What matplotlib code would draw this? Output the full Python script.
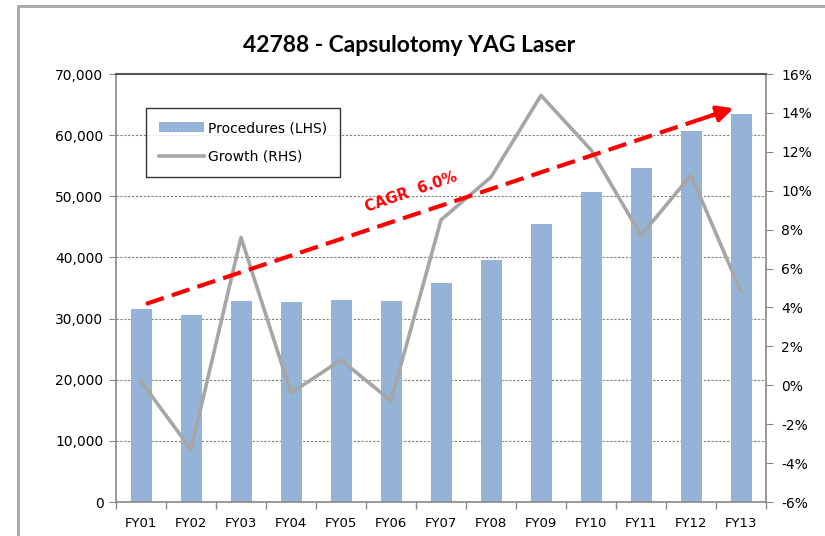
import matplotlib
matplotlib.use("Agg")
import matplotlib.pyplot as plt
from matplotlib.patches import Rectangle, Patch
from matplotlib.lines import Line2D
from matplotlib.ticker import FuncFormatter, MultipleLocator, FixedLocator

categories = ["FY01", "FY02", "FY03", "FY04", "FY05", "FY06", "FY07",
              "FY08", "FY09", "FY10", "FY11", "FY12", "FY13"]
procedures = [31500, 30600, 32800, 32700, 33000, 32800, 35800,
              39500, 45400, 50700, 54700, 60600, 63500]
growth = [0.2, -3.3, 7.6, -0.4, 1.3, -0.8, 8.5,
          10.7, 14.9, 12.1, 7.7, 10.8, 4.8]
title = "42788 - Capsulotomy YAG Laser"
cagr_label = "CAGR  6.0%"
cagr_start = (0.1, 32400)
cagr_end = (11.85, 64400)

plt.rcParams['font.family'] = ['DejaVu Sans']

fig = plt.figure(figsize=(8.25, 5.36), dpi=100)
W, H = 825, 536
ax = fig.add_axes([116 / W, 1 - 502 / H, 650 / W, 428 / H])

# outer frame
fig.patches.append(Rectangle((18 / W, -0.2), 1.2, 1 - 6 / H + 0.2,
                             transform=fig.transFigure, fill=False,
                             edgecolor='#a6a6a6', linewidth=2, zorder=0))

x = list(range(len(categories)))
ax.bar(x, procedures, width=0.42, color='#95b3d7', zorder=2)
ax.set_xlim(-0.5, len(categories) - 0.5)
ax.set_ylim(0, 70000)
ax.yaxis.set_major_locator(MultipleLocator(10000))
ax.yaxis.set_major_formatter(FuncFormatter(lambda v, p: f"{int(v):,}"))
ax.grid(axis='y', color='#808080', linestyle=(0, (2, 1.5)), linewidth=0.8, zorder=1)
ax.set_xticks(x)
ax.set_xticklabels(categories)
ax.xaxis.set_minor_locator(FixedLocator([i - 0.5 for i in range(len(categories) + 1)]))
ax.tick_params(axis='x', which='major', length=0, pad=11, labelsize=9.5)
ax.tick_params(axis='x', which='minor', length=5, color='#888888', width=1)
ax.tick_params(axis='y', length=5, color='#888888', labelsize=10, pad=4)

for s in ['left', 'bottom', 'right']:
    ax.spines[s].set_color('#888888')
    ax.spines[s].set_linewidth(1.2)
ax.spines['top'].set_color('#555555')
ax.spines['top'].set_linewidth(1.5)

ax2 = ax.twinx()
ax2.set_ylim(-6, 16)
ax2.yaxis.set_major_locator(MultipleLocator(2))
ax2.yaxis.set_major_formatter(FuncFormatter(lambda v, p: f"{int(round(v))}%"))
ax2.tick_params(axis='y', length=5, color='#888888', labelsize=10, pad=6)
for s in ['left', 'bottom', 'right', 'top']:
    ax2.spines[s].set_visible(False)

ax.set_zorder(ax2.get_zorder() + 1)
ax.patch.set_visible(False)

# growth line on top of bars, scaled by the right axis
ax.plot(x, growth, color='#a6a6a6', linewidth=2.6, zorder=3,
        transform=ax2.transData)

# CAGR arrow
fx = 0.985
mid = (cagr_start[0] + (cagr_end[0] - cagr_start[0]) * fx,
       cagr_start[1] + (cagr_end[1] - cagr_start[1]) * fx)
ax.plot([cagr_start[0], mid[0]], [cagr_start[1], mid[1]],
        color='#ff0000', linewidth=3, linestyle=(0, (4.5, 2)),
        zorder=5, clip_on=False)
ax.annotate("", xy=cagr_end,
            xytext=(cagr_start[0] + (cagr_end[0] - cagr_start[0]) * 0.95,
                    cagr_start[1] + (cagr_end[1] - cagr_start[1]) * 0.95),
            arrowprops=dict(arrowstyle='-|>', color='#ff0000', lw=3,
                            mutation_scale=24, shrinkA=0, shrinkB=0),
            zorder=6)

ax.text(5.4, 50700, cagr_label, color='#ff0000', fontsize=10.5, fontweight='bold',
        rotation=19, rotation_mode='anchor', ha='center', va='center', zorder=6)

handles = [Patch(facecolor='#95b3d7', edgecolor='none'),
           Line2D([0], [0], color='#a6a6a6', linewidth=2.6)]
leg = ax.legend(handles, ["Procedures (LHS)", "Growth (RHS)"],
                loc='upper left', bbox_to_anchor=(0.046, 0.921),
                frameon=True, fancybox=False, edgecolor='black',
                fontsize=10, handlelength=3.2, handleheight=0.8,
                labelspacing=1.05, borderpad=0.95, handletextpad=0.3,
                borderaxespad=0)
leg.get_frame().set_linewidth(1.0)
leg.set_zorder(7)

fig.text(409 / W, 1 - 45 / H, title, ha='center', va='center',
         fontsize=16.5, fontweight='bold', family=['Lato', 'DejaVu Sans'])

fig.savefig("out.png", dpi=100)
